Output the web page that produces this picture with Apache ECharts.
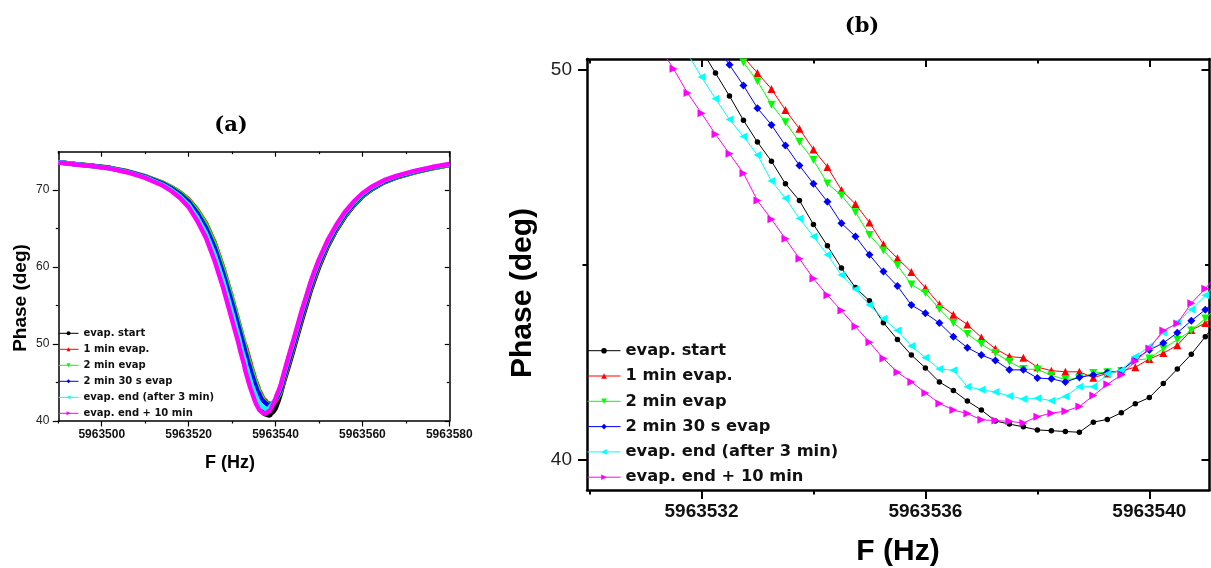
<!DOCTYPE html>
<html><head><meta charset="utf-8">
<script src="https://cdn.jsdelivr.net/npm/echarts@6/dist/echarts.min.js"></script>
<style>html,body{margin:0;padding:0;background:#fff}#c{width:1211px;height:568px}</style>
</head><body><div id="c"></div>
<script>
// ---------- data ----------
const seriesNames = ['evap. start', '1 min evap.', '2 min evap', '2 min 30 s evap', 'evap. end (after 3 min)', 'evap. end + 10 min'];

// panel (b): frequency grid (Hz) of the zoomed sweep
const zoomFreq = [5963530, 5963530.25, 5963530.5, 5963530.75, 5963531, 5963531.25, 5963531.5, 5963531.75,
  5963532, 5963532.25, 5963532.5, 5963532.75, 5963533, 5963533.25, 5963533.5, 5963533.75,
  5963534, 5963534.25, 5963534.5, 5963534.75, 5963535, 5963535.25, 5963535.5, 5963535.75,
  5963536, 5963536.25, 5963536.5, 5963536.75, 5963537, 5963537.25, 5963537.5, 5963537.75,
  5963538, 5963538.25, 5963538.5, 5963538.75, 5963539, 5963539.25, 5963539.5, 5963539.75,
  5963540, 5963540.25, 5963540.5, 5963540.75, 5963541, 5963541.25];

const zoomStart = [null, null, null, null, null, null, null, null,
  50.51, 49.92, 49.33, 48.71, 48.15, 47.66, 47.08, 46.65, 46.04, 45.49, 44.92, 44.42, 44.08, 43.52, 43.09, 42.69,
  42.36, 42.00, 41.78, 41.51, 41.28, 41.00, 40.92, 40.85, 40.77, 40.75, 40.73, 40.71, 40.97, 41.04, 41.21, 41.44,
  41.60, 41.96, 42.33, 42.71, 43.16, 43.64];
const zoom1min = [null, null, null, null, null, null, null, null, null, null, null,
  50.33, 49.92, 49.51, 48.97, 48.49, 47.96, 47.51, 46.92, 46.56, 46.09, 45.53, 45.17, 44.82, 44.41, 43.99, 43.72,
  43.47, 43.14, 42.85, 42.65, 42.62, 42.38, 42.29, 42.26, 42.26, 42.11, 42.22, 42.28, 42.38, 42.59, 42.74, 42.94,
  43.33, 43.51, 43.79];
const zoom2min = [null, null, null, null, null, null, null, null, null, null,
  50.67, 50.19, 49.71, 49.11, 48.66, 48.15, 47.69, 47.09, 46.78, 46.35, 45.77, 45.37, 44.99, 44.50, 44.28, 43.87,
  43.51, 43.23, 42.97, 42.74, 42.52, 42.33, 42.32, 42.17, 42.06, 42.10, 42.23, 42.25, 42.28, 42.56, 42.60, 42.86,
  43.08, 43.32, 43.63, 43.97];
const zoom2min30 = [null, null, null, null, null, null, null, null, null,
  50.64, 50.13, 49.60, 49.02, 48.59, 48.06, 47.55, 47.08, 46.62, 46.07, 45.73, 45.26, 44.83, 44.46, 43.97, 43.76,
  43.51, 43.16, 42.88, 42.69, 42.55, 42.31, 42.31, 42.10, 42.08, 42.00, 42.12, 42.18, 42.24, 42.29, 42.59, 42.82,
  43.00, 43.26, 43.57, 43.85, 44.15];
const zoomEnd = [null, null, null, null, null, null, null,
  50.42, 49.82, 49.26, 48.73, 48.29, 47.82, 47.15, 46.71, 46.19, 45.73, 45.26, 44.74, 44.38, 43.97, 43.62, 43.32,
  42.92, 42.62, 42.33, 42.30, 41.88, 41.80, 41.74, 41.64, 41.56, 41.58, 41.52, 41.63, 41.88, 41.88, 42.21, 42.30,
  42.65, 42.91, 43.26, 43.54, 43.86, 44.22, 44.59];
const zoomEnd10 = [null, null, null, null, null,
  50.59, 50.03, 49.41, 48.89, 48.35, 47.85, 47.35, 46.65, 46.17, 45.67, 45.16, 44.65, 44.22, 43.83, 43.42, 43.02,
  42.60, 42.25, 42.00, 41.72, 41.45, 41.28, 41.19, 41.03, 41.01, 40.99, 40.95, 41.11, 41.20, 41.25, 41.37, 41.65,
  41.94, 42.18, 42.53, 42.86, 43.32, 43.50, 44.02, 44.39, 44.82];

// panel (a): wide sweep, wings
const wideLeftFreq = [5963490, 5963494, 5963498, 5963502, 5963506, 5963510, 5963512, 5963514, 5963516, 5963518,
  5963520, 5963522, 5963524, 5963526, 5963528, 5963530];
const wideLeftStart = [73.63, 73.38, 73.14, 72.85, 72.37, 71.70, 71.24, 70.78, 70.15, 69.35, 68.30, 66.70, 64.70, 61.95, 58.50, 54.60];
const wideLeft1min = [73.64, 73.40, 73.17, 72.90, 72.45, 71.82, 71.40, 70.98, 70.42, 69.74, 68.82, 67.45, 65.70, 63.20, 59.90, 56.00];
const wideLeft2min = [73.64, 73.40, 73.17, 72.90, 72.44, 71.80, 71.38, 70.95, 70.38, 69.68, 68.75, 67.35, 65.55, 63.00, 59.70, 55.90];
const wideLeft2min30 = [73.63, 73.38, 73.15, 72.87, 72.40, 71.74, 71.30, 70.86, 70.25, 69.50, 68.50, 67.00, 65.10, 62.50, 59.10, 55.30];
const wideLeftEnd = [73.62, 73.37, 73.12, 72.83, 72.34, 71.66, 71.18, 70.70, 70.05, 69.20, 68.10, 66.45, 64.40, 61.60, 58.10, 54.10];
const wideLeftEnd10 = [73.60, 73.35, 73.10, 72.80, 72.30, 71.60, 71.10, 70.60, 69.90, 69.00, 67.80, 66.00, 63.80, 60.80, 57.20, 53.10];

const wideRightFreq = [5963542, 5963543, 5963544, 5963545, 5963546, 5963547, 5963548, 5963549, 5963550, 5963552,
  5963554, 5963556, 5963558, 5963560, 5963562, 5963565, 5963568, 5963572, 5963576, 5963580];
const wideRightStart = [45.20, 47.05, 48.95, 50.95, 52.95, 54.85, 56.75, 58.40, 59.95, 62.65, 64.80, 66.55, 67.98, 69.18, 70.04, 71.02, 71.68, 72.32, 72.85, 73.28];
const wideRight1min = [45.40, 47.30, 49.20, 51.20, 53.20, 55.10, 56.95, 58.60, 60.15, 62.80, 64.90, 66.65, 68.05, 69.23, 70.08, 71.05, 71.70, 72.33, 72.86, 73.28];
const wideRight2min = [45.60, 47.50, 49.40, 51.40, 53.40, 55.30, 57.15, 58.80, 60.30, 62.90, 64.95, 66.70, 68.08, 69.25, 70.10, 71.05, 71.70, 72.33, 72.86, 73.28];
const wideRight2min30 = [45.80, 47.70, 49.60, 51.60, 53.60, 55.50, 57.35, 59.00, 60.50, 63.05, 65.10, 66.85, 68.20, 69.35, 70.18, 71.12, 71.76, 72.38, 72.90, 73.32];
const wideRightEnd = [46.20, 48.20, 50.10, 52.10, 54.10, 55.90, 57.75, 59.35, 60.82, 63.33, 65.35, 67.07, 68.38, 69.50, 70.32, 71.23, 71.85, 72.46, 72.96, 73.37];
const wideRightEnd10 = [46.40, 48.40, 50.30, 52.30, 54.30, 56.10, 57.95, 59.55, 61.00, 63.50, 65.50, 67.20, 68.50, 69.60, 70.40, 71.30, 71.90, 72.50, 73.00, 73.40];

// tick values
const ticksAxMajor = [5963500, 5963520, 5963540, 5963560, 5963580];
const ticksAxMinor = [5963490, 5963510, 5963530, 5963550, 5963570];
const ticksAyMajor = [40, 50, 60, 70];
const ticksAyMinor = [45, 55, 65];
const ticksBxMajor = [5963532, 5963536, 5963540];
const ticksBxMinor = [5963530, 5963534, 5963538];
const ticksByMajor = [40, 50];
const ticksByMinor = [45];

// ---------- styling ----------
const zoomSets = [zoomStart, zoom1min, zoom2min, zoom2min30, zoomEnd, zoomEnd10];
const leftSets = [wideLeftStart, wideLeft1min, wideLeft2min, wideLeft2min30, wideLeftEnd, wideLeftEnd10];
const rightSets = [wideRightStart, wideRight1min, wideRight2min, wideRight2min30, wideRightEnd, wideRightEnd10];
const colors = ['#000000', '#ff0000', '#00ff00', '#0000ff', '#00ffff', '#ff00ff'];
const symbols = ['circle', 'triangle', 'triangle', 'diamond', 'triangle', 'triangle'];
const rotations = [0, 0, 180, 0, 90, -90];
const symSizes = [5.5, 8, 8, 8, 8, 8];

const SANS = '"Liberation Sans", Arial, sans-serif';
const fmtX = v => String(Math.round(v));
const fmtY = v => String(Math.round(v));

function xAx(grid, pos, min, max, ticks, len, inside, showLine, lw, tw, label) {
  return {
    type: 'value', gridIndex: grid, position: pos, min: min, max: max,
    axisLine: { show: showLine, onZero: false, lineStyle: { color: '#000', width: lw } },
    axisTick: { show: true, customValues: ticks, inside: inside, length: len, lineStyle: { color: '#000', width: tw } },
    axisLabel: label ? Object.assign({ show: true, customValues: ticks, formatter: fmtX }, label) : { show: false },
    splitLine: { show: false }
  };
}
function yAx(grid, pos, min, max, ticks, len, inside, showLine, lw, tw, label) {
  return {
    type: 'value', gridIndex: grid, position: pos, min: min, max: max,
    axisLine: { show: showLine, onZero: false, lineStyle: { color: '#000', width: lw } },
    axisTick: { show: true, customValues: ticks, inside: inside, length: len, lineStyle: { color: '#000', width: tw } },
    axisLabel: label ? Object.assign({ show: true, customValues: ticks, formatter: fmtY }, label) : { show: false },
    splitLine: { show: false }
  };
}

const AX = [5963490, 5963580], AY = [40, 75];
const BX = [5963529.955, 5963541.075], BY = [39.23, 50.28];

const xAxes = [
  xAx(0, 'bottom', AX[0], AX[1], ticksAxMajor, 5.5, false, true, 1.5, 1.2,
      { margin: 8, fontFamily: SANS, fontWeight: 'bold', fontSize: 12, color: '#111' }),
  xAx(0, 'bottom', AX[0], AX[1], ticksAxMinor, 2.5, false, false, 1.5, 1.2, null),
  xAx(0, 'top', AX[0], AX[1], ticksAxMajor, 5, true, true, 1.5, 1.2, null),
  xAx(0, 'top', AX[0], AX[1], ticksAxMinor, 2.5, true, false, 1.5, 1.2, null),
  xAx(1, 'bottom', BX[0], BX[1], ticksBxMajor, 9, false, true, 2.5, 2,
      { margin: 12, fontFamily: SANS, fontWeight: 'bold', fontSize: 19, color: '#111' }),
  xAx(1, 'bottom', BX[0], BX[1], ticksBxMinor, 4.5, false, false, 2.5, 2, null),
  xAx(1, 'top', BX[0], BX[1], ticksBxMajor, 8, true, true, 2.5, 2, null),
  xAx(1, 'top', BX[0], BX[1], ticksBxMinor, 4.5, true, false, 2.5, 2, null)
];
const yAxes = [
  yAx(0, 'left', AY[0], AY[1], ticksAyMajor, 5.5, false, true, 1.5, 1.2,
      { margin: 9, fontFamily: SANS, fontSize: 12, color: '#222' }),
  yAx(0, 'left', AY[0], AY[1], ticksAyMinor, 2.5, false, false, 1.5, 1.2, null),
  yAx(0, 'right', AY[0], AY[1], ticksAyMajor, 4.5, true, true, 1.5, 1.2, null),
  yAx(0, 'right', AY[0], AY[1], ticksAyMinor, 2.5, true, false, 1.5, 1.2, null),
  yAx(1, 'left', BY[0], BY[1], ticksByMajor, 9, false, true, 2.5, 2,
      { margin: 15, fontFamily: SANS, fontSize: 19, color: '#222' }),
  yAx(1, 'left', BY[0], BY[1], ticksByMinor, 4.5, false, false, 2.5, 2, null),
  yAx(1, 'right', BY[0], BY[1], ticksByMajor, 8, true, true, 2.5, 2, null),
  yAx(1, 'right', BY[0], BY[1], ticksByMinor, 4.5, true, false, 2.5, 2, null)
];

const series = [];
seriesNames.forEach((name, i) => {
  const zoomPairs = zoomFreq.map((f, j) => [f, zoomSets[i][j]]).filter(p => p[1] !== null);
  const widePairs = wideLeftFreq.map((f, j) => [f, leftSets[i][j]])
    .concat(zoomPairs)
    .concat(wideRightFreq.map((f, j) => [f, rightSets[i][j]]));
  series.push({
    type: 'line', name: name, xAxisIndex: 0, yAxisIndex: 0, data: widePairs,
    showSymbol: false, symbol: symbols[i], symbolRotate: rotations[i], symbolSize: 3,
    lineStyle: { color: colors[i], width: 4.5 }, itemStyle: { color: colors[i] },
    silent: true, z: 2 + i
  });
});
seriesNames.forEach((name, i) => {
  const zoomPairs = zoomFreq.map((f, j) => [f, zoomSets[i][j]]).filter(p => p[1] !== null);
  series.push({
    type: 'line', name: name, xAxisIndex: 4, yAxisIndex: 4, data: zoomPairs,
    showSymbol: true, symbol: symbols[i], symbolRotate: rotations[i], symbolSize: symSizes[i],
    lineStyle: { color: colors[i], width: 1 }, itemStyle: { color: colors[i] },
    clip: true, silent: true, z: 2 + i
  });
});

function txt(x, y, text, font, rot) {
  return { type: 'text', x: x, y: y, rotation: rot || 0, silent: true,
    style: { text: text, font: font, fill: '#000', align: 'center', verticalAlign: 'middle',
             textAlign: 'center', textVerticalAlign: 'middle' } };
}

const option = {
  animation: false,
  backgroundColor: '#ffffff',
  grid: [
    { left: 58.3, top: 151.7, width: 391, height: 269.3, containLabel: false },
    { left: 587, top: 59, width: 622.5, height: 431, containLabel: false }
  ],
  xAxis: xAxes,
  yAxis: yAxes,
  legend: [
    { orient: 'vertical', left: 58, top: 328.3, padding: 0, itemGap: 6, itemWidth: 20, itemHeight: 5,
      selectedMode: false, data: seriesNames, lineStyle: { width: 1 },
      textStyle: { fontFamily: '"DejaVu Sans", sans-serif', fontWeight: 'bold', fontSize: 10, lineHeight: 10, color: '#111' } },
    { orient: 'vertical', left: 587, top: 342.7, padding: 0, itemGap: 9.3, itemWidth: 33, itemHeight: 7,
      selectedMode: false, data: seriesNames, lineStyle: { width: 1 },
      textStyle: { fontFamily: '"DejaVu Sans", sans-serif', fontWeight: 'bold', fontSize: 16.3, lineHeight: 16, color: '#111' } }
  ],
  graphic: [
    txt(231, 126, '(a)', 'bold 21px "DejaVu Serif", serif'),
    txt(862, 27, '(b)', 'bold 21px "DejaVu Serif", serif'),
    txt(20.5, 298, 'Phase (deg)', 'bold 19px ' + SANS, Math.PI / 2),
    txt(230, 463, 'F (Hz)', 'bold 18px ' + SANS),
    txt(523, 293, 'Phase (deg)', 'bold 30px ' + SANS, Math.PI / 2),
    txt(898, 552, 'F (Hz)', 'bold 30px ' + SANS)
  ],
  series: series
};

const chart = echarts.init(document.getElementById('c'), null, { renderer: 'canvas' });
chart.setOption(option);
</script>
</body></html>
